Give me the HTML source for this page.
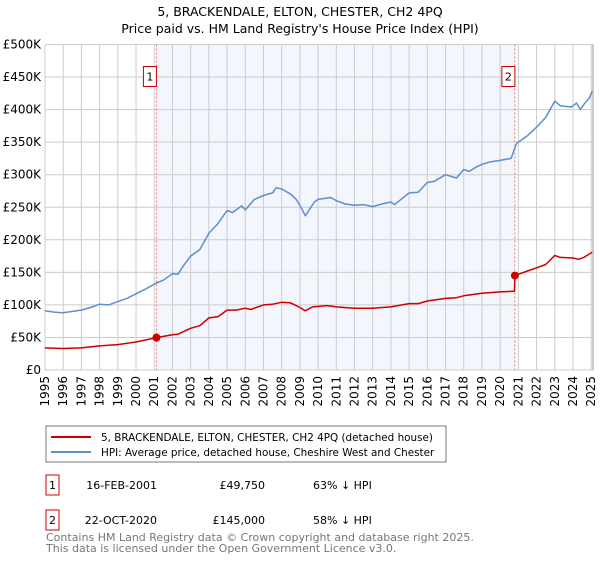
<!DOCTYPE html>
<html><head><meta charset="utf-8"><style>
body{margin:0;width:600px;height:560px;background:#fff;font-family:"DejaVu Sans","Liberation Sans",sans-serif;overflow:hidden}
svg text{font-family:"DejaVu Sans","Liberation Sans",sans-serif}
</style></head><body>
<svg id="c" width="600" height="560" xmlns="http://www.w3.org/2000/svg">
<text x="300" y="16" text-anchor="middle" font-size="12.5" fill="#000">5, BRACKENDALE, ELTON, CHESTER, CH2 4PQ</text>
<text x="300" y="33" text-anchor="middle" font-size="12.5" fill="#000">Price paid vs. HM Land Registry's House Price Index (HPI)</text>
<g id="plot"></g>
<rect x="46" y="426" width="400" height="36" fill="#fff" stroke="#777"/>
<line x1="51" y1="437" x2="91" y2="437" stroke="#cc0000" stroke-width="2"/>
<text x="101" y="441" font-size="10.4">5, BRACKENDALE, ELTON, CHESTER, CH2 4PQ (detached house)</text>
<line x1="51" y1="452" x2="91" y2="452" stroke="#5b8fd0" stroke-width="2"/>
<text x="101" y="456" font-size="10.4">HPI: Average price, detached house, Cheshire West and Chester</text>
<g>
<rect x="46" y="475" width="13" height="20" fill="#fff" stroke="#cc0000"/>
<text x="52.5" y="489" text-anchor="middle" font-size="11">1</text>
<text x="157" y="489" text-anchor="end" font-size="11">16-FEB-2001</text>
<text x="265" y="489" text-anchor="end" font-size="11">£49,750</text>
<text x="313" y="489" font-size="11">63% ↓ HPI</text>
</g>
<g>
<rect x="46" y="510" width="13" height="20" fill="#fff" stroke="#cc0000"/>
<text x="52.5" y="524" text-anchor="middle" font-size="11">2</text>
<text x="157" y="524" text-anchor="end" font-size="11">22-OCT-2020</text>
<text x="265" y="524" text-anchor="end" font-size="11">£145,000</text>
<text x="313" y="524" font-size="11">58% ↓ HPI</text>
</g>
<text x="46" y="541" font-size="11" fill="#777">Contains HM Land Registry data © Crown copyright and database right 2025.</text>
<text x="46" y="552" font-size="11" fill="#777">This data is licensed under the Open Government Licence v3.0.</text>
</svg>
<script>
const hpiYears=[1995,1995.5,1996,1997,1997.5,1998,1998.5,1999,1999.5,2000,2000.5,2001,2001.5,2002,2002.3,2002.6,2003,2003.5,2004,2004.5,2005,2005.3,2005.8,2006,2006.5,2007,2007.5,2007.7,2008,2008.5,2008.8,2009,2009.3,2009.8,2010,2010.7,2011,2011.5,2012,2012.5,2013,2013.5,2014,2014.2,2015,2015.5,2016,2016.4,2017,2017.6,2018,2018.3,2018.7,2019,2019.5,2020,2020.6,2020.9,2021.5,2022,2022.5,2023,2023.3,2023.9,2024.2,2024.4,2024.6,2024.9,2025.05];
const hpiValues=[91,89,88,92,96,101,100,105,110,117,124,132,138,148,147,160,175,185,210,225,245,242,252,246,262,268,272,280,278,270,262,253,237,258,262,265,260,255,253,254,251,255,258,254,272,273,288,290,300,295,308,305,312,316,320,322,325,348,360,373,388,413,406,404,410,400,408,418,428];
const ppYears=[1995,1996,1997,1998,1999,2000,2001.12,2002,2002.3,2003,2003.5,2004,2004.5,2005,2005.5,2006,2006.3,2007,2007.5,2008,2008.5,2009,2009.3,2009.7,2010.5,2011,2012,2013,2014,2015,2015.5,2016,2017,2017.6,2018,2019,2020,2020.79,2020.81,2021.5,2022,2022.5,2023,2023.3,2024,2024.3,2024.6,2025.05];
const ppValues=[34,33,34,37,39,43,49.75,54,55,64,68,80,82,92,92,95,93,100,101,104,103,96,91,97,99,97,95,95,97,102,102,106,110,111,114,118,120,121,145,152,157,162,176,173,172,170,173,181];
const saleYears=[2001.12,2020.81];
const saleValues=[49.75,145];
const saleLabels=["1","2"];
const yTicks=[0,50,100,150,200,250,300,350,400,450,500];
const yTickLabels=["£0","£50K","£100K","£150K","£200K","£250K","£300K","£350K","£400K","£450K","£500K"];
const xTicks=[1995,1996,1997,1998,1999,2000,2001,2002,2003,2004,2005,2006,2007,2008,2009,2010,2011,2012,2013,2014,2015,2016,2017,2018,2019,2020,2021,2022,2023,2024,2025];

const L=45,R=593,T=44.5,B=370,X0=1995,X1=2025.1;
const sx=v=>L+(v-X0)/(X1-X0)*(R-L);
const sy=v=>B-v/500*(B-T);
const NS="http://www.w3.org/2000/svg";
const g=document.getElementById('plot');
function mk(t,a,p){const e=document.createElementNS(NS,t);for(const k in a)e.setAttribute(k,a[k]);(p||g).appendChild(e);return e;}
const shade=mk('rect',{x:sx(saleYears[0]),y:T,width:sx(saleYears[1])-sx(saleYears[0]),height:B-T,fill:'#eef2fc',opacity:0.7});


yTicks.forEach((v,i)=>{
  const ln=mk('line',{x1:L,x2:R,y1:sy(v),y2:sy(v),stroke:'#ccc','stroke-width':1});
  
  
  const t=mk('text',{x:L-4,y:sy(v)+4,'text-anchor':'end','font-size':12});
  
  
  t.textContent=yTickLabels[i];
});
xTicks.forEach(v=>{
  const ln=mk('line',{x1:sx(v),x2:sx(v),y1:T,y2:B,stroke:'#ccc','stroke-width':1});
  
  
  const t=mk('text',{x:0,y:0,'text-anchor':'end','font-size':12,transform:`translate(${sx(v)+4},${B+6}) rotate(-90)`});
  
  
  t.textContent=v;
});
const edge=mk('line',{x1:R,x2:R,y1:T,y2:B,stroke:'#999','stroke-width':1});


saleYears.forEach((yr,i)=>{
  const ln=mk('line',{x1:sx(yr),x2:sx(yr),y1:T,y2:B,stroke:'#f07070','stroke-width':1,'stroke-dasharray':'2,2'});
  
  
  const bx=mk('rect',{x:sx(yr)-13,y:T+22,width:13,height:20,fill:'#fff',stroke:'#cc0000'});
  
  
  const t=mk('text',{x:sx(yr)-6.5,y:T+36,'text-anchor':'middle','font-size':11});
  
  
  t.textContent=saleLabels[i];
});
function line(xs,ys,col){return mk('path',{d:xs.map((x,i)=>(i?'L':'M')+sx(x).toFixed(1)+','+sy(ys[i]).toFixed(1)).join(''),fill:'none',stroke:col,'stroke-width':1.5,'stroke-linejoin':'round'});}
const h=line(hpiYears,hpiValues,'#5b8fd0');


const p=line(ppYears,ppValues,'#cc0000');


saleYears.forEach((yr,i)=>{
  const c=mk('circle',{cx:sx(yr),cy:sy(saleValues[i]),r:4,fill:'#cc0000'});
  
  
});
</script>
</body></html>
